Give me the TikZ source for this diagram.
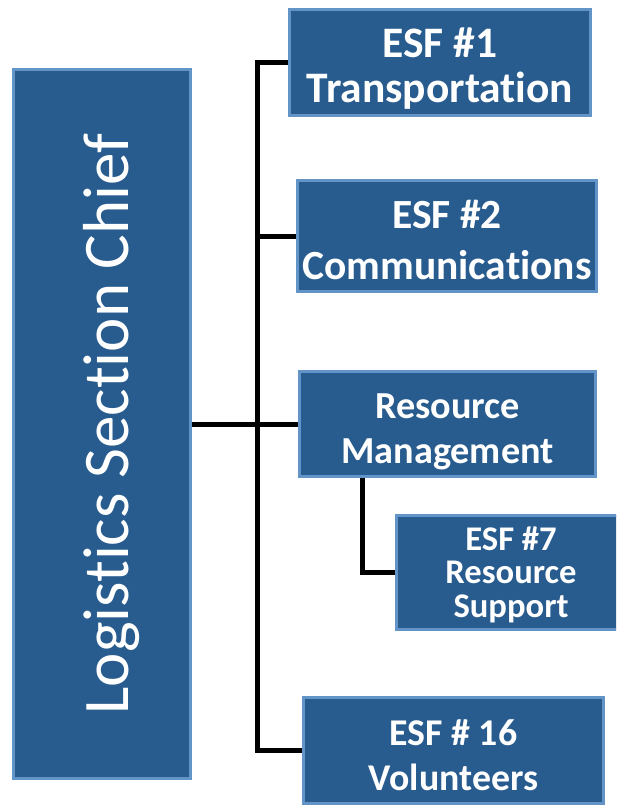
\documentclass[tikz,border=0pt]{standalone}
\usepackage{fontspec}
\setmainfont{Carlito}[Ligatures=NoCommon]
\usepackage{xcolor}
\definecolor{boxFill}{RGB}{40,92,143}
\definecolor{boxLine}{RGB}{98,148,200}
\usetikzlibrary{positioning}
\newcommand{\topstrut}[1]{\rule{0pt}{#1}}
\newcommand{\botstrut}[1]{\rule[-#1]{0pt}{#1}}
\tikzset{
  orgbox/.style={draw=boxLine, fill=boxFill, line width=3pt, text=white, align=center, inner sep=0pt},
  esfbox/.style={orgbox, minimum width=300pt, minimum height=106pt},
  link/.style={line width=5pt, black}
}

\begin{document}
\begin{tikzpicture}[x=1pt, y=-1pt]
\useasboundingbox (0,0) rectangle (616,806);
\clip (0,0) rectangle (616,806);
% chief on the left, rotated text
\node[orgbox, rotate=90, minimum width=709pt, minimum height=177pt, font=\fontsize{65}{70}\selectfont] (chief) at (102,424) {\topstrut{67pt}Logistics Section Chief\botstrut{15pt}};
% ESF boxes
\node[esfbox, minimum width=301pt, font=\bfseries\fontsize{43.5}{45}\selectfont] (esf1) at (440,62.5) {\topstrut{46pt}ESF \#1\\Transportation\botstrut{12pt}};
\node[esfbox, minimum width=299pt, minimum height=105pt, font=\bfseries\fontsize{41.5}{51}\selectfont] (esf2) at (447,236) {\topstrut{48pt}ESF \#2\\Communications\botstrut{12pt}};
\node[esfbox, minimum width=296pt, minimum height=105pt, font=\bfseries\fontsize{38.2}{45}\selectfont] (resmgmt) at (447.5,424) {\topstrut{45pt}Resource\\Management\botstrut{12pt}};
\node[esfbox, minimum width=229pt, minimum height=107pt, font=\bfseries\fontsize{34.6}{33.5}\selectfont] (esf7) at (511,572) {\topstrut{35pt}ESF \#7\\Resource\\Support\botstrut{12pt}};
\node[esfbox, font=\bfseries\fontsize{37.8}{45}\selectfont] (esf16) at (453.5,750.5) {\topstrut{46pt}ESF \# 16\\Volunteers\botstrut{12pt}};
% connectors
\coordinate (trunk) at (257,64);
\draw[link] (esf1.west) -- (esf1.west -| trunk) |- (esf16.west);
\draw[link] (esf2.west -| trunk) -- (esf2.west);
\draw[link] (chief.south) -- (resmgmt.west);
\draw[link] ([xshift=64pt]resmgmt.south west) |- (esf7.west);
\end{tikzpicture}
\end{document}
